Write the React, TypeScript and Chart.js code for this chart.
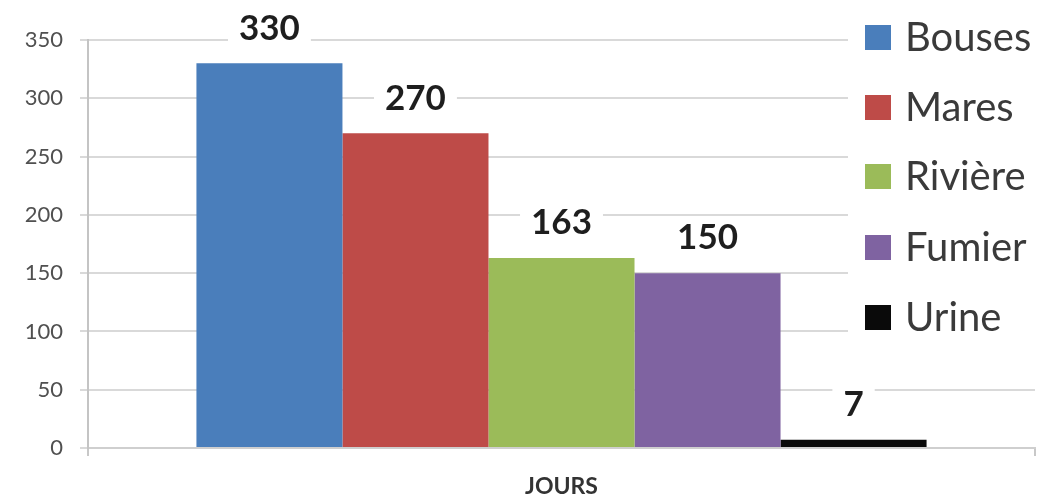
import React, { useEffect, useRef } from "react";
import { Chart, registerables } from "chart.js";

Chart.register(...registerables);

const categories = ["JOURS"];
const seriesNames = ["Bouses", "Mares", "Rivière", "Fumier", "Urine"];
const seriesValues = [330, 270, 163, 150, 7];
const seriesColors = ["#4A7EBB", "#BE4B48", "#9BBB59", "#7F63A1", "#0A0A0A"];
const yTicks = [0, 50, 100, 150, 200, 250, 300, 350];

const FONT = "Lato, 'Open Sans', sans-serif";

const labelPlugin = {
  id: "valueLabels",
  afterDatasetsDraw(chart: any) {
    const ctx = chart.ctx;
    ctx.save();
    chart.data.datasets.forEach((ds: any, i: number) => {
      const meta = chart.getDatasetMeta(i);
      meta.data.forEach((bar: any, j: number) => {
        const v = ds.data[j];
        const x = bar.x;
        const y = bar.y - 35;
        ctx.font = `bold 35px ${FONT}`;
        const w = ctx.measureText(String(v)).width;
        ctx.fillStyle = "#ffffff";
        ctx.fillRect(x - w / 2 - 11, y - 16, w + 22, 32);
        ctx.fillStyle = "#1e1e1e";
        ctx.textAlign = "center";
        ctx.textBaseline = "middle";
        ctx.fillText(String(v), x, y);
      });
    });
    ctx.restore();
  },
};

const legendPlugin = {
  id: "sideLegend",
  afterDraw(chart: any) {
    const ctx = chart.ctx;
    ctx.save();
    ctx.fillStyle = "#ffffff";
    ctx.fillRect(848, 30, 191, 312);
    const rowY = [37, 107, 176, 247, 317];
    chart.data.datasets.forEach((ds: any, i: number) => {
      const cy = rowY[i];
      ctx.fillStyle = ds.backgroundColor;
      ctx.fillRect(865, cy - 12, 26, 25);
      ctx.fillStyle = "#3a3a3a";
      ctx.font = `40px ${FONT}`;
      ctx.textAlign = "left";
      ctx.textBaseline = "middle";
      ctx.fillText(ds.label, 905, cy + 1);
    });
    ctx.restore();
  },
};

export default function App() {
  const ref = useRef<HTMLCanvasElement>(null);
  useEffect(() => {
    if (!ref.current) return;
    const chart = new Chart(ref.current, {
      type: "bar",
      data: {
        labels: categories,
        datasets: seriesNames.map((name, i) => ({
          label: name,
          data: [seriesValues[i]],
          backgroundColor: seriesColors[i],
          borderWidth: 0,
          categoryPercentage: 0.771,
          barPercentage: 1,
        })),
      },
      options: {
        animation: false,
        responsive: false,
        devicePixelRatio: 1,
        layout: { padding: { left: 0, right: 4, top: 40, bottom: 0 } },
        plugins: { legend: { display: false }, tooltip: { enabled: false } },
        scales: {
          x: {
            grid: {
              display: true,
              drawOnChartArea: false,
              drawTicks: true,
              tickLength: 8,
              color: "#c8c8c8",
              lineWidth: 2,
            },
            border: { display: true, color: "#cfcfcf", width: 2 },
            ticks: {
              color: "#333333",
              font: { family: FONT, size: 23, weight: "bold" },
              padding: 17,
            },
            afterFit(scale: any) {
              scale.height = 53;
            },
          },
          y: {
            min: 0,
            max: 350,
            afterBuildTicks(scale: any) {
              scale.ticks = yTicks.map((v) => ({ value: v }));
            },
            grid: {
              color: "#d9d9d9",
              lineWidth: 2,
              tickLength: 8,
            },
            border: { display: true, color: "#c4c4c4", width: 2 },
            ticks: {
              color: "#505050",
              font: { family: FONT, size: 22 },
              padding: 17,
            },
            afterFit(scale: any) {
              scale.width = 88;
            },
          },
        },
      },
      plugins: [labelPlugin, legendPlugin],
    });
    return () => chart.destroy();
  }, []);
  return (
    <div style={{ position: "absolute", left: 0, top: 0, width: 1039, height: 501, background: "#fff" }}>
      <canvas ref={ref} width={1039} height={501} />
    </div>
  );
}
